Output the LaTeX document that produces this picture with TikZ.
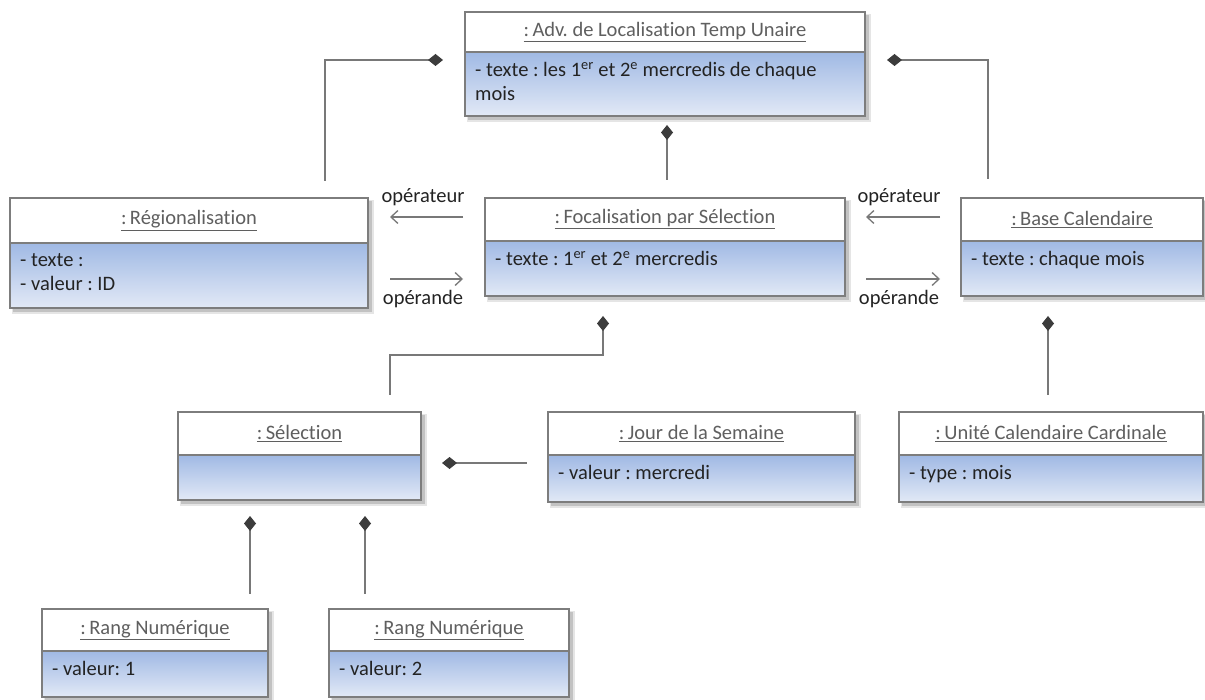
\documentclass[tikz,border=0pt]{standalone}
\usepackage{fontspec}
\setmainfont{Carlito}[Ligatures=NoCommon]
\frenchspacing
\usetikzlibrary{arrows.meta,fit,calc}
\definecolor{boxtop}{RGB}{160,185,228}
\definecolor{boxbot}{RGB}{226,233,246}
\definecolor{boxline}{RGB}{125,125,125}
\definecolor{titlec}{RGB}{95,95,95}
\definecolor{txtc}{RGB}{35,35,35}
\definecolor{linec}{RGB}{120,120,120}
\definecolor{diac}{RGB}{60,60,60}
\tikzset{
  boxedge/.style={draw=boxline, line width=1.3pt},
  titletxt/.style={inner sep=0pt, text=titlec, font=\fontsize{20.5}{24}\selectfont},
  attrtxt/.style={inner sep=0pt, text=txtc, align=left, font=\fontsize{20.5}{24}\selectfont},
  lbl/.style={inner sep=0pt, text=txtc, font=\fontsize{20.5}{24}\selectfont},
  comp/.style={draw=linec, line width=1.3pt, {Diamond[length=15pt,width=12pt,fill=diac,color=diac]}-},
  navarrow/.style={draw=linec, line width=1.3pt, -{Straight Barb[length=7pt,width=13pt]}},
  objbox/.style={inner sep=0pt}
}
% name, x1, y1, x2, ysplit, y2, title, attrs
\newcommand{\uobj}[8]{%
  \fill[black, opacity=0.10] (#2+2,#3+2) rectangle (#4+6,#6+6);
  \fill[black, opacity=0.15] (#2+3,#3+3) rectangle (#4+4,#6+4);
  \shade[top color=boxtop, bottom color=boxbot] (#2,#5) rectangle (#4,#6);
  \fill[white] (#2,#3) rectangle (#4,#5);
  \draw[boxedge] (#2,#3) rectangle (#4,#6);
  \draw[boxedge] (#2,#5) -- (#4,#5);
  \coordinate (#1-nw) at (#2,#3);
  \coordinate (#1-se) at (#4,#6);
  \node[objbox, fit=(#1-nw)(#1-se)] (#1) {};
  \node[titletxt] (#1-title) at ({(#2+#4)/2},{(#3+#5)/2}) {\underline{#7}};
  \node[attrtxt, anchor=north west] (#1-attr) at (#2+10,#5+10) {#8};
}
\begin{document}
\begin{tikzpicture}[x=1pt, y=-1pt]
\useasboundingbox[fill=white] (0,0) rectangle (1205,700);

\uobj{adv}{465}{12}{865}{52}{116}{:\,Adv. de Localisation Temp Unaire}{- texte : les 1\textsuperscript{er} et 2\textsuperscript{e} mercredis de chaque\\mois}
\uobj{reg}{10}{198}{368}{243}{308}{:\,Régionalisation}{- texte :\\- valeur : ID}
\uobj{foc}{485}{198}{845}{241}{296}{:\,Focalisation par Sélection}{- texte : 1\textsuperscript{er} et 2\textsuperscript{e} mercredis}
\uobj{base}{961}{198}{1203}{241}{296}{:\,Base Calendaire}{- texte : chaque mois}
\uobj{sel}{178}{412}{421}{455}{500}{:\,Sélection}{}
\uobj{jour}{548}{412}{855}{455}{502}{:\,Jour de la Semaine}{- valeur : mercredi}
\uobj{unite}{899}{412}{1203}{455}{502}{:\,Unité Calendaire Cardinale}{- type : mois}
\uobj{rang1}{42}{609}{268}{651}{697}{:\,Rang Numérique}{- valeur: 1}
\uobj{rang2}{329}{609}{569}{651}{697}{:\,Rang Numérique}{- valeur: 2}

% composition ends (diamond tips near the whole)
\coordinate (advL) at (443,60);
\coordinate (regT) at (325,181);
\coordinate (advR) at (887,60);
\coordinate (baseT) at (988,179);
\coordinate (advB) at (667,125);
\coordinate (focT) at (667,180);
\coordinate (focB) at (603,316);
\coordinate (selT) at (390,395);
\coordinate (baseB) at (1048,316);
\coordinate (uniteT) at (1048,395);
\coordinate (selR) at (442,463);
\coordinate (jourL) at (527,463);
\coordinate (selB1) at (250,516);
\coordinate (rang1T) at (250,594);
\coordinate (selB2) at (365,516);
\coordinate (rang2T) at (365,594);

\draw[comp] (advL) -| (regT);
\draw[comp] (advR) -| (baseT);
\draw[comp] (advB) -- (focT);
\draw[comp] (focB) |- (390,355) -- (selT);
\draw[comp] (baseB) -- (uniteT);
\draw[comp] (selR) -- (jourL);
\draw[comp] (selB1) -- (rang1T);
\draw[comp] (selB2) -- (rang2T);

% operator / operand arrows
\coordinate (a1s) at (463,217); \coordinate (a1e) at (390,217);
\coordinate (a2s) at (390,279); \coordinate (a2e) at (463,279);
\coordinate (a3s) at (940,217); \coordinate (a3e) at (866,217);
\coordinate (a4s) at (866,279); \coordinate (a4e) at (940,279);
\draw[navarrow] (a1s) -- (a1e);
\draw[navarrow] (a2s) -- (a2e);
\draw[navarrow] (a3s) -- (a3e);
\draw[navarrow] (a4s) -- (a4e);
\node[lbl] (l1) at (423,197) {opérateur};
\node[lbl] (l2) at (423,299) {opérande};
\node[lbl] (l3) at (899,197) {opérateur};
\node[lbl] (l4) at (899,299) {opérande};
\end{tikzpicture}
\end{document}
